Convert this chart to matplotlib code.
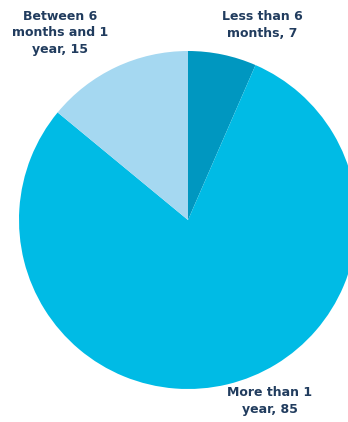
import matplotlib.pyplot as plt

labels = ['Less than 6\nmonths', 'More than 1\nyear', 'Between 6\nmonths and 1\nyear']
values = [7, 85, 15]
colors = ['#0097c0', '#00bbe5', '#a5d8f1']

fig = plt.figure(figsize=(3.48, 4.22), dpi=100)
ax = fig.add_axes([0, 0, 1, 1])

# pie in pixel coordinates (centre 188,220 from top)
ax.pie(values, colors=colors, startangle=90, counterclock=False,
       center=(188, 202), radius=169, frame=True,
       wedgeprops={'linewidth': 0})
ax.set_xlim(0, 348)
ax.set_ylim(0, 422)
ax.set_aspect('equal')
ax.axis('off')

txt = dict(ha='center', va='center', fontsize=9, fontweight='bold',
           color='#213c5e', linespacing=1.4)
ax.text(60, 422 - 33, f'{labels[2]}, {values[2]}', **txt)
ax.text(262, 422 - 25, f'{labels[0]}, {values[0]}', **txt)
ax.text(270, 422 - 401, f'{labels[1]}, {values[1]}', **txt)

fig.savefig('out.png', dpi=100)
